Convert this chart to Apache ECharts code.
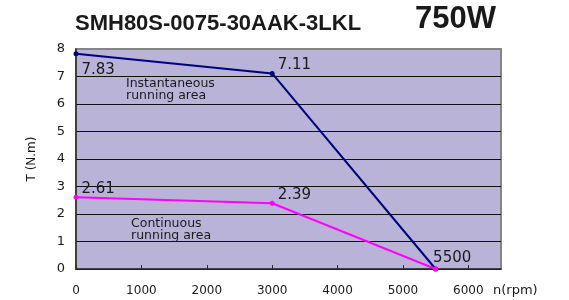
<!DOCTYPE html>
<html>
<head>
    <meta charset="utf-8" />
    <script src="https://cdn.jsdelivr.net/npm/echarts@6/dist/echarts.min.js"></script>
</head>
<body style="margin:0;background:#fff;">
<div id="main" style="width: 569px;height:300px;"></div>
<script>
    // motor torque-speed curve data
    var speed = [0, 3000, 5500];
    var peakTorque = [7.83, 7.11, 0];
    var ratedTorque = [2.61, 2.39, 0];
    var peakLabels = ['7.83', '7.11', '5500'];
    var ratedLabels = ['2.61', '2.39', ''];
    var xTicks = [0, 1000, 2000, 3000, 4000, 5000, 6000];

    var chartDom = document.getElementById('main');
    var myChart = echarts.init(chartDom);
    var option;

    var font = 'Liberation Sans, Arial, sans-serif';
    var wide = 'DejaVu Sans, sans-serif';

    function pairs(ys) {
        return speed.map(function (x, i) {
            return [x, ys[i]];
        });
    }

    // label offsets, per point
    var peakOffsets = [[0, 16], [0, -8], [-8, -11]];
    var ratedOffsets = [[0, -8], [0, -8], [0, 0]];

    function labelled(ys, texts, offsets) {
        return pairs(ys).map(function (p, i) {
            return {
                value: p,
                label: {
                    show: texts[i] !== '',
                    formatter: texts[i],
                    offset: offsets[i]
                }
            };
        });
    }

    option = {
        animation: false,
        grid: {
            left: 76,
            top: 49,
            width: 425,
            height: 220,
            show: true,
            backgroundColor: '#b8b3d7',
            borderColor: '#858585',
            borderWidth: 2
        },
        graphic: [
            {
                type: 'text', left: 75, top: 13,
                style: { text: 'SMH80S-0075-30AAK-3LKL', font: 'bold 22px ' + font, fill: '#1a1a1a' }
            },
            {
                type: 'text', left: 415, top: 4,
                style: { text: '750W', font: 'bold 31px ' + font, fill: '#1a1a1a' }
            },
            {
                type: 'text', left: 126, top: 77,
                style: { text: 'Instantaneous\nrunning area', font: '12.5px ' + wide, fill: '#1a1a1a', lineHeight: 12 }
            },
            {
                type: 'text', left: 131, top: 217,
                style: { text: 'Continuous\nrunning area', font: '12.5px ' + wide, fill: '#1a1a1a', lineHeight: 12 }
            }
        ],
        xAxis: {
            type: 'value',
            min: 0,
            max: 6500,
            interval: 1000,
            name: 'n(rpm)',
            nameLocation: 'end',
            nameGap: -8,
            nameTextStyle: {
                fontFamily: wide,
                fontSize: 13,
                color: '#1a1a1a',
                align: 'left',
                verticalAlign: 'top',
                padding: [15, 0, 0, 0]
            },
            axisLine: { onZero: false, lineStyle: { color: '#2a2a2a', width: 1.5 } },
            axisTick: { inside: true, length: 4, lineStyle: { color: '#2a2a2a' } },
            splitLine: { show: false },
            axisLabel: {
                margin: 16,
                showMaxLabel: false,
                fontFamily: wide,
                fontSize: 12,
                color: '#1a1a1a',
                formatter: function (v) {
                    return xTicks.indexOf(v) >= 0 ? String(v) : '';
                }
            }
        },
        yAxis: {
            type: 'value',
            min: 0,
            max: 8,
            interval: 1,
            name: 'T (N.m)',
            nameLocation: 'middle',
            nameGap: 38,
            nameTextStyle: { fontFamily: wide, fontSize: 12, color: '#1a1a1a' },
            axisLine: { show: true, onZero: false, lineStyle: { color: '#2a2a2a', width: 1.5 } },
            axisTick: { show: false },
            splitLine: { showMaxLine: false, lineStyle: { color: '#111', width: 1 } },
            axisLabel: { margin: 11, fontFamily: wide, fontSize: 13, color: '#1a1a1a' }
        },
        series: [
            {
                type: 'line',
                data: labelled(peakTorque, peakLabels, peakOffsets),
                symbol: 'circle',
                symbolSize: 5,
                lineStyle: { color: '#000080', width: 2 },
                itemStyle: { color: '#000080' },
                label: {
                    position: 'right',
                    distance: 3,
                    fontFamily: wide,
                    fontSize: 15,
                    color: '#1a1a1a'
                },
                z: 3
            },
            {
                type: 'line',
                data: labelled(ratedTorque, ratedLabels, ratedOffsets),
                symbol: 'circle',
                symbolSize: 5,
                lineStyle: { color: '#ff00ff', width: 2 },
                itemStyle: { color: '#ff00ff' },
                label: {
                    position: 'right',
                    distance: 3,
                    fontFamily: wide,
                    fontSize: 15,
                    color: '#1a1a1a'
                },
                z: 4
            }
        ]
    };

    option && myChart.setOption(option);
</script>
</body>
</html>
